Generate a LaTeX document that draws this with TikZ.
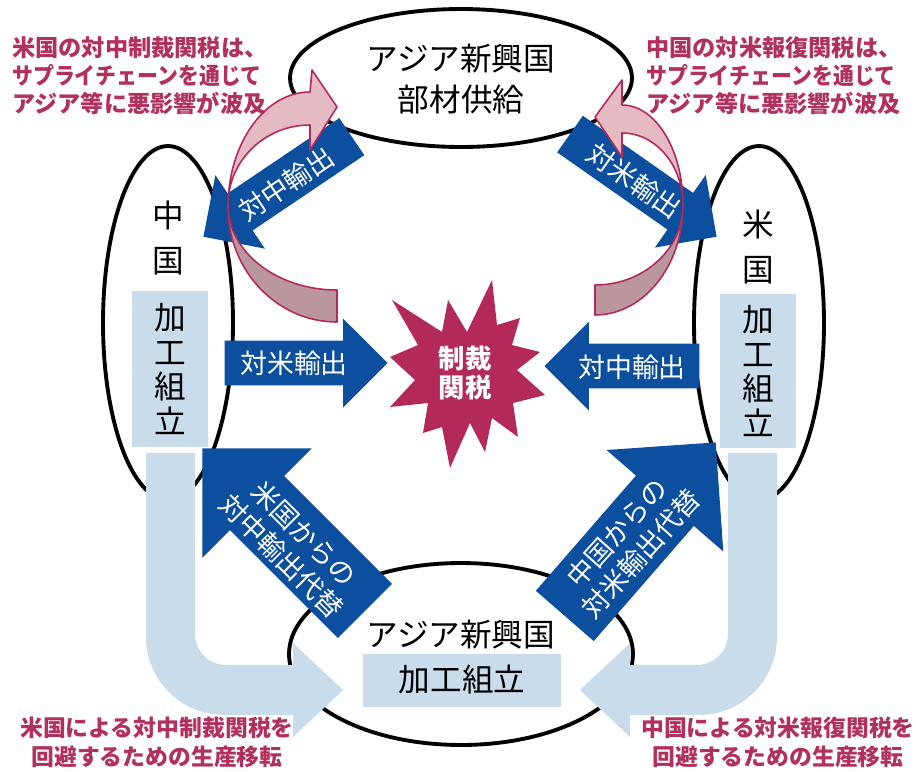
\documentclass[tikz,border=0pt]{standalone}
\usepackage{fontspec}
\usepackage{graphicx}
\usetikzlibrary{shapes.geometric,shapes.arrows}
\newfontfamily\jp{Noto Sans CJK JP}
\definecolor{flowblue}{RGB}{12,79,158}
\definecolor{paleblue}{RGB}{201,220,236}
\definecolor{burstred}{RGB}{179,42,90}
\definecolor{notered}{RGB}{178,48,94}
\definecolor{pinkfront}{RGB}{229,186,194}
\definecolor{pinkback}{RGB}{186,151,157}
\newcommand{\squeezed}[1]{\scalebox{0.9}[1]{#1}}
\tikzstyle{region}=[ellipse, draw=black, line width=2.2pt, fill=white, inner sep=0pt]
\tikzstyle{bigtext}=[font=\jp\fontsize{18pt}{23.8pt}\selectfont, align=center, inner sep=0pt]
\tikzstyle{vtext}=[font=\jp\fontsize{18pt}{25.5pt}\selectfont, align=center, inner sep=0pt]
\tikzstyle{proc}=[bigtext, fill=paleblue]
\tikzstyle{vproc}=[proc, font=\jp\fontsize{18pt}{19.6pt}\selectfont]
\tikzstyle{flow}=[single arrow, fill=flowblue, inner xsep=0pt, single arrow tip angle=90, anchor=tip]
\tikzstyle{flowtext}=[font=\jp\fontsize{15.3pt}{18pt}\selectfont, text=white, align=center, inner sep=0pt]
\tikzstyle{notetext}=[font=\jp\bfseries\fontsize{13pt}{16.4pt}\selectfont, text=notered, inner sep=0pt]
\tikzstyle{topnote}=[notetext, font=\jp\bfseries\fontsize{13.2pt}{16pt}\selectfont, align=left, anchor=west]
\tikzstyle{spill}=[draw=burstred, line width=0.9pt, line join=round]
\tikzstyle{detour}=[fill=paleblue]

\begin{document}
\begin{tikzpicture}[x=0.02cm, y=0.02cm]
  \useasboundingbox (0,0) rectangle (916,-771);

  % the four regions
  \node[region, minimum width=6.84cm, minimum height=2.76cm] (asiaU) at (461,-78) {};
  \node[region, minimum width=6.88cm, minimum height=3.64cm] (asiaL) at (461,-654) {};
  \node[region, minimum width=2.6cm, minimum height=7.08cm] (china) at (168,-323) {};
  \node[region, minimum width=2.6cm, minimum height=7.08cm] (usa) at (759,-323) {};

  \node[bigtext] (asiaUt) at (461,-79) {アジア新興国\\部材供給};
  \node[bigtext] (asiaLt) at (461,-635) {アジア新興国};
  \node[proc, minimum width=3.98cm, minimum height=1.06cm] (asiaLp) at (462,-680) {加工組立};
  \node[vtext] (chinat) at (168,-238) {中\\国};
  \node[vproc, minimum width=1.52cm, minimum height=3.12cm] (chinap) at (170,-369) {加\\工\\組\\立};
  \node[vtext] (usat) at (758,-247) {米\\国};
  \node[vproc, minimum width=1.52cm, minimum height=3.1cm] (usap) at (758,-371) {加\\工\\組\\立};

  % production shifted to asia
  \fill[detour] (146,-453) -- (146,-637) arc[start angle=180, end angle=270, radius=78]
    -- (293,-715) -- (293,-737) -- (343,-690) -- (293,-643) -- (293,-665) -- (226,-665)
    arc[start angle=270, end angle=180, radius=31] -- (195,-453) -- cycle;
  \fill[detour] (777,-453) -- (777,-637) arc[start angle=0, end angle=-90, radius=78]
    -- (630,-715) -- (630,-737) -- (580,-690) -- (630,-643) -- (630,-665) -- (697,-665)
    arc[start angle=270, end angle=360, radius=31] -- (728,-453) -- cycle;

  % trade flows
  \node[flow, minimum height=3.26cm, inner ysep=0.44cm, single arrow head extend=0.44cm] (cn2tariff) at (388,-363) {};
  \node[flowtext] (cn2tarifft) at (294,-363) {対米輸出};
  \node[flow, shape border rotate=180, minimum height=3.1cm, inner ysep=0.44cm, single arrow head extend=0.44cm] (us2tariff) at (544,-366) {};
  \node[flowtext] (us2tarifft) at (632,-367) {対中輸出};
  \node[flow, rotate=34, shape border rotate=180, minimum height=3.58cm, inner ysep=0.44cm, single arrow head extend=0.44cm] (asia2cn) at (203,-237) {};
  \node[flowtext, rotate=34] (asia2cnt) at (286,-184) {対中輸出};
  \node[flow, rotate=-35, minimum height=3.58cm, inner ysep=0.44cm, single arrow head extend=0.44cm] (asia2us) at (717,-237) {};
  \node[flowtext, rotate=-35] (asia2ust) at (634,-181) {対米輸出};
  \node[flow, rotate=-45, shape border rotate=180, minimum height=4.6cm, inner ysep=0.76cm, single arrow head extend=0.78cm] (asia2cnL) at (202,-448) {};
  \node[flowtext, rotate=-45] (asia2cnLt) at (293,-545) {米国からの\\対中輸出代替};
  \node[flow, rotate=49, minimum height=4.6cm, inner ysep=0.76cm, single arrow head extend=0.78cm] (asia2usL) at (716,-442) {};
  \node[flowtext, rotate=48] (asia2usLt) at (629,-543) {中国からの\\対米輸出代替};

  % spill-over through the supply chain
  \filldraw[spill, fill=pinkback] (228,-207) arc[start angle=180, end angle=270, x radius=109, y radius=115]
    -- (337,-290) arc[start angle=270, end angle=180, x radius=109, y radius=85] -- cycle;
  \filldraw[spill, fill=pinkfront] (228,-207) arc[start angle=180, end angle=90, x radius=82, y radius=115]
    -- (312,-70) -- (337,-107) -- (310,-150) -- (310,-125)
    arc[start angle=90, end angle=180, x radius=82, y radius=80] -- cycle;
  \filldraw[spill, fill=pinkback] (683,-205) arc[start angle=0, end angle=-90, x radius=88, y radius=110]
    -- (595,-285) arc[start angle=-90, end angle=0, x radius=88, y radius=80] -- cycle;
  \filldraw[spill, fill=pinkfront] (683,-205) arc[start angle=0, end angle=90, x radius=61, y radius=100]
    -- (622,-80) -- (595,-117) -- (622,-157) -- (622,-133)
    arc[start angle=90, end angle=0, x radius=61, y radius=72] -- cycle;

  % tariff burst
  \fill[burstred] (492,-280) -- (497,-325) -- (520,-318) -- (512,-345) -- (540,-352) -- (517,-370)
    -- (545,-395) -- (513,-403) -- (518,-437) -- (492,-418) -- (485,-452) -- (470,-423)
    -- (450,-468) -- (442,-427) -- (423,-433) -- (428,-403) -- (390,-407) -- (415,-380)
    -- (390,-357) -- (418,-345) -- (392,-300) -- (442,-332) -- (448,-300) -- (467,-332) -- cycle;
  \node[font=\jp\bfseries\fontsize{15pt}{17pt}\selectfont, text=white, align=center, inner sep=0pt] (tariff) at (465,-373) {制裁\\関税};

  % notes
  \node[topnote] (noteUS) at (12,-75.5) {米国の対中制裁関税は、\\\squeezed{サプライチェーンを通じて}\\アジア等に悪影響が波及};
  \node[topnote] (noteCN) at (646,-75.5) {中国の対米報復関税は、\\\squeezed{サプライチェーンを通じて}\\アジア等に悪影響が波及};
  \node[notetext, align=center] (shiftUS) at (157,-742) {米国による対中制裁関税を\\回避するための生産移転};
  \node[notetext, align=center] (shiftCN) at (778,-742) {中国による対米報復関税を\\回避するための生産移転};
\end{tikzpicture}
\end{document}
